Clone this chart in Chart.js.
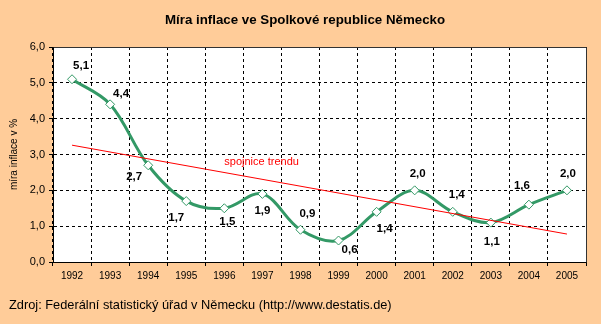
<!DOCTYPE html>
<html><head><meta charset="utf-8">
<script src="https://cdn.jsdelivr.net/npm/chart.js@4/dist/chart.umd.min.js"></script>
<style>html,body{margin:0;padding:0;background:#FFCC99;}#c{display:block;}</style>
</head><body>
<canvas id="c" width="601" height="324"></canvas>
<script>
// ---- data ----
const years = ['1992','1993','1994','1995','1996','1997','1998','1999','2000','2001','2002','2003','2004','2005'];
const inflation = [5.1, 4.4, 2.7, 1.7, 1.5, 1.9, 0.9, 0.6, 1.4, 2.0, 1.4, 1.1, 1.6, 2.0];
const trendStart = 3.26;   // trend line value at 1992
const trendEnd = 0.78;     // trend line value at 2005
const yMin = 0, yMax = 6, yStep = 1;

const titleText = 'Míra inflace ve Spolkové republice Německo';
const yAxisTitle = 'míra inflace v %';
const sourceText = 'Zdroj: Federální statistický úřad v Německu (http://www.destatis.de)';
const trendLabel = 'spojnice trendu';

// ---- styling / layout ----
const FONT = '"Liberation Sans", Arial, sans-serif';
const GREEN = '#339966';
const labelOffsets = [[9,-13],[11,-11],[-14,12],[-10,17],[3,14],[0,17],[7,-16],[11,9],[8,17],[3,-17],[4,-17],[1,19],[-7,-19],[1,-17]];

const trendData = years.map((_, i) => i === 0 ? trendStart : (i === years.length - 1 ? trendEnd : null));
const fmt = v => Number(v).toFixed(1).replace('.', ',');

const bgPlugin = {
  id: 'bg',
  beforeDraw(chart) {
    const {ctx, chartArea: a} = chart;
    ctx.save();
    ctx.fillStyle = '#FFCC99';
    ctx.fillRect(0, 0, chart.width, chart.height);
    ctx.fillStyle = '#FFFFFF';
    ctx.fillRect(a.left, a.top, a.right - a.left, a.bottom - a.top);
    ctx.restore();
  },
  beforeDatasetsDraw(chart) {
    const {ctx, chartArea: a} = chart;
    ctx.save();
    ctx.strokeStyle = '#333333';
    ctx.lineWidth = 1;
    ctx.beginPath();
    ctx.moveTo(Math.round(a.left) + 0.5, Math.round(a.top) + 0.5);
    ctx.lineTo(Math.round(a.right) + 0.5, Math.round(a.top) + 0.5);
    ctx.lineTo(Math.round(a.right) + 0.5, Math.round(a.bottom) + 0.5);
    ctx.stroke();
    ctx.strokeStyle = '#000000';
    ctx.beginPath();
    ctx.moveTo(Math.round(a.left) + 0.5, Math.round(a.top) + 0.5);
    ctx.lineTo(Math.round(a.left) + 0.5, Math.round(a.bottom) + 0.5);
    ctx.lineTo(Math.round(a.right) + 0.5, Math.round(a.bottom) + 0.5);
    ctx.stroke();
    ctx.restore();
  },
  afterDatasetsDraw(chart) {
    const {ctx} = chart;
    const meta = chart.getDatasetMeta(1);
    ctx.save();
    ctx.fillStyle = '#000';
    ctx.font = 'bold 11.5px ' + FONT;
    ctx.textAlign = 'center';
    ctx.textBaseline = 'middle';
    meta.data.forEach((pt, i) => {
      const o = labelOffsets[i] || [0, -15];
      ctx.fillText(fmt(inflation[i]), pt.x + o[0], pt.y + o[1]);
    });
    // trend label anchored to scales
    const xs = chart.scales.x, ys = chart.scales.y;
    ctx.font = '11px ' + FONT;
    ctx.fillStyle = '#FF0000';
    ctx.textAlign = 'left';
    ctx.fillText(trendLabel, xs.getPixelForValue(4), ys.getPixelForValue(2.8));
    ctx.restore();
  },
  afterDraw(chart) {
    const {ctx, chartArea: a} = chart;
    ctx.save();
    ctx.fillStyle = '#000';
    ctx.textBaseline = 'middle';
    ctx.textAlign = 'center';
    ctx.font = 'bold 13.3px ' + FONT;
    ctx.fillText(titleText, 305, 20);
    ctx.font = '12.8px ' + FONT;
    ctx.textAlign = 'left';
    ctx.fillText(sourceText, 9, 305);
    ctx.translate(14, (a.top + a.bottom) / 2);
    ctx.rotate(-Math.PI / 2);
    ctx.textAlign = 'center';
    ctx.font = '10px ' + FONT;
    ctx.fillText(yAxisTitle, 0, 0);
    ctx.restore();
  }
};

const gridStyle = {
  color: '#000000',
  lineWidth: 1,
  tickLength: 4,
  tickColor: '#000000',
  tickWidth: 1,
  tickBorderDash: []
};

new Chart(document.getElementById('c'), {
  type: 'line',
  data: {
    labels: years,
    datasets: [
      {
        label: trendLabel,
        data: trendData,
        borderColor: '#FF0000',
        borderWidth: 1,
        pointRadius: 0,
        spanGaps: true,
        tension: 0,
        order: 0
      },
      {
        label: 'inflace',
        data: inflation,
        borderColor: GREEN,
        borderWidth: 3,
        tension: 0.35,
        pointStyle: 'rectRot',
        pointRadius: 4.5,
        pointBackgroundColor: '#FFFFFF',
        pointBorderColor: GREEN,
        pointBorderWidth: 1,
        order: 1
      }
    ]
  },
  options: {
    responsive: false,
    animation: false,
    devicePixelRatio: 1,
    layout: { padding: { left: 0, right: 15, top: 47, bottom: 0 } },
    plugins: { legend: { display: false }, tooltip: { enabled: false }, title: { display: false } },
    scales: {
      x: {
        offset: true,
        grid: Object.assign({ offset: true }, gridStyle),
        border: { display: true, color: '#000', width: 1, dash: [3, 3] },
        ticks: { color: '#000', font: { family: FONT, size: 10 }, padding: 4, maxRotation: 0, autoSkip: false },
        afterFit(s) { s.height = 62; }
      },
      y: {
        min: yMin, max: yMax,
        grid: gridStyle,
        border: { display: true, color: '#000', width: 1, dash: [3, 3] },
        ticks: { stepSize: yStep, color: '#000', font: { family: FONT, size: 11 }, padding: 4, callback: v => fmt(v) },
        afterFit(s) { s.width = 53; }
      }
    }
  },
  plugins: [bgPlugin]
});
</script>
</body></html>
